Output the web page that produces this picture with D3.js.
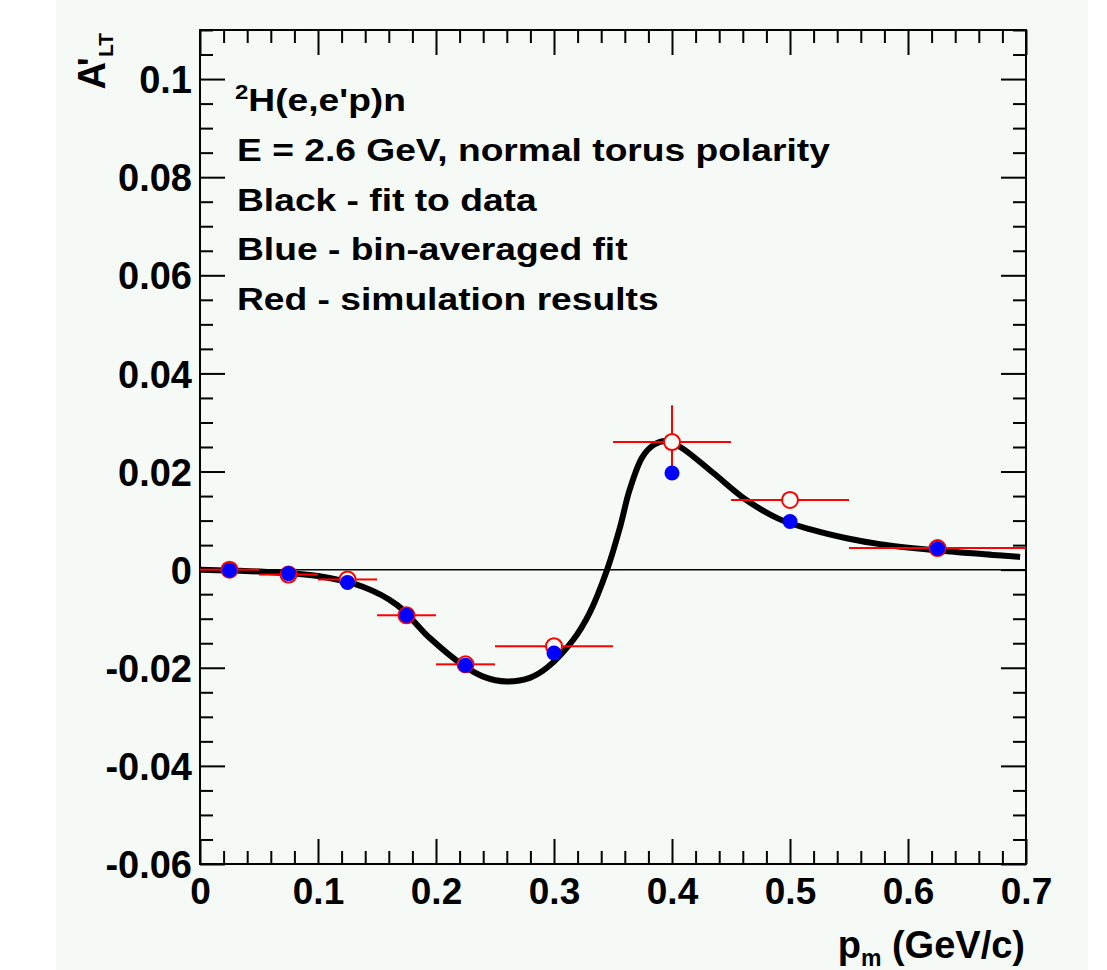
<!DOCTYPE html>
<html>
<head>
<meta charset="utf-8">
<script src="https://cdn.jsdelivr.net/npm/d3@7"></script>
<style>
  body { margin: 0; background: #ffffff; }
  svg text { font-family: "Liberation Sans", Arial, Helvetica, sans-serif; font-weight: bold; fill: #000; }
</style>
</head>
<body>
<svg id="chart" width="1107" height="970"></svg>
<script>
// bins in p_m (GeV/c)
var binCenters = [0.025, 0.075, 0.125, 0.175, 0.225, 0.3, 0.4, 0.5, 0.625];
var binHalfWidths = [0.025, 0.025, 0.025, 0.025, 0.025, 0.05, 0.05, 0.05, 0.075];

// red - simulation results
var simValues = [0.0, -0.001, -0.002, -0.0093, -0.0193, -0.0156, 0.0260, 0.0142, 0.0044];
var simErrors = [0.0006, 0.0006, 0.0008, 0.0008, 0.0008, 0.001, 0.0075, 0.0008, 0.0008];

// blue - bin-averaged fit
var binAvgFit = [-0.0001, -0.0008, -0.0026, -0.0093, -0.0195, -0.0170, 0.0197, 0.0098, 0.0043];

// black - fit to data
var fitX = [0, 0.05, 0.1, 0.138, 0.167, 0.195, 0.223, 0.24, 0.26, 0.28, 0.295, 0.316, 0.33,
            0.345, 0.356, 0.364, 0.375, 0.385, 0.395, 0.407, 0.435, 0.463, 0.491, 0.519,
            0.548, 0.576, 0.621, 0.672, 0.695];
var fitY = [0, -0.0004, -0.0013, -0.0035, -0.0072, -0.0140, -0.0195, -0.0218, -0.0228, -0.0220,
            -0.0198, -0.0144, -0.0089, 0.0, 0.0087, 0.0162, 0.0230, 0.0255, 0.0262, 0.0250,
            0.0197, 0.0142, 0.0103, 0.0081, 0.0064, 0.0052, 0.0040, 0.0030, 0.0026];

var xTicks = [0, 0.1, 0.2, 0.3, 0.4, 0.5, 0.6, 0.7];
var yTicks = [-0.06, -0.04, -0.02, 0, 0.02, 0.04, 0.06, 0.08, 0.1];

var legendLines = [
  "E = 2.6 GeV, normal torus polarity",
  "Black - fit to data",
  "Blue - bin-averaged fit",
  "Red - simulation results"
];

var svg = d3.select("#chart");
var bg = "#f5faf7";

var padL = 200, padR = 1026, padT = 30, padB = 864;

var x = d3.scaleLinear().domain([0, 0.7]).range([padL, padR]);
var y = d3.scaleLinear().domain([-0.06, 0.11]).range([padB, padT]);

var fmt = function(d) { return d === 0 ? "0" : String(+d.toFixed(2)); };

svg.append("rect")
  .attr("x", 56).attr("y", 0)
  .attr("width", 1032).attr("height", 970)
  .attr("fill", bg);

// minor tick positions
var xMinor = d3.range(0, 36).map(function(i) { return +(i * 0.02).toFixed(3); })
  .filter(function(v) { return v <= 0.7 && Math.abs(v * 10 - Math.round(v * 10)) > 1e-6; });
var yMinor = d3.range(0, 35).map(function(i) { return +(-0.06 + i * 0.005).toFixed(4); })
  .filter(function(v) { return v <= 0.11 && Math.abs(v * 50 - Math.round(v * 50)) > 1e-6; });

function styleAxis(g) {
  g.select(".domain").remove();
  g.selectAll(".tick line").attr("stroke", "#000").attr("stroke-width", 2);
}

// bottom axis
svg.append("g").attr("transform", "translate(0," + padB + ")")
  .call(d3.axisBottom(x).tickValues(xTicks).tickSize(-25).tickPadding(14).tickFormat(fmt))
  .call(styleAxis)
  .selectAll("text").style("font-size", "37px").attr("dy", "0.71em");
svg.append("g").attr("transform", "translate(0," + padB + ")")
  .call(d3.axisBottom(x).tickValues(xMinor).tickSize(-13).tickFormat(""))
  .call(styleAxis);
// top axis
svg.append("g").attr("transform", "translate(0," + padT + ")")
  .call(d3.axisTop(x).tickValues(xTicks).tickSize(-25).tickFormat(""))
  .call(styleAxis);
svg.append("g").attr("transform", "translate(0," + padT + ")")
  .call(d3.axisTop(x).tickValues(xMinor).tickSize(-13).tickFormat(""))
  .call(styleAxis);

// left axis
svg.append("g").attr("transform", "translate(" + padL + ",0)")
  .call(d3.axisLeft(y).tickValues(yTicks).tickSize(-25).tickPadding(8).tickFormat(fmt))
  .call(styleAxis)
  .selectAll("text").style("font-size", "38px").attr("dy", "0.36em");
svg.append("g").attr("transform", "translate(" + padL + ",0)")
  .call(d3.axisLeft(y).tickValues(yMinor).tickSize(-13).tickFormat(""))
  .call(styleAxis);
// right axis
svg.append("g").attr("transform", "translate(" + padR + ",0)")
  .call(d3.axisRight(y).tickValues(yTicks).tickSize(-25).tickFormat(""))
  .call(styleAxis);
svg.append("g").attr("transform", "translate(" + padR + ",0)")
  .call(d3.axisRight(y).tickValues(yMinor).tickSize(-13).tickFormat(""))
  .call(styleAxis);

// frame
svg.append("rect")
  .attr("x", padL).attr("y", padT)
  .attr("width", padR - padL).attr("height", padB - padT)
  .attr("fill", "none").attr("stroke", "#000").attr("stroke-width", 2);

// zero line
svg.append("line")
  .attr("x1", padL).attr("x2", padR)
  .attr("y1", y(0)).attr("y2", y(0))
  .attr("stroke", "#000").attr("stroke-width", 1.5);

// fit curve
var fitPts = fitX.map(function(v, i) { return [v, fitY[i]]; });
var line = d3.line()
  .x(function(d) { return x(d[0]); })
  .y(function(d) { return y(d[1]); })
  .curve(d3.curveCatmullRom.alpha(0.5));
svg.append("path")
  .datum(fitPts)
  .attr("d", line)
  .attr("fill", "none")
  .attr("stroke", "#000")
  .attr("stroke-width", 6)
  .attr("stroke-linejoin", "round");

// simulation points with error bars
var r = 8;
var sim = binCenters.map(function(c, i) {
  return { x: c, hw: binHalfWidths[i], y: simValues[i], e: simErrors[i], b: binAvgFit[i] };
});
var eb = svg.append("g").attr("stroke", "#ff0000").attr("stroke-width", 2);
sim.forEach(function(d) {
  var cx = x(d.x), cy = y(d.y);
  eb.append("line").attr("x1", x(d.x - d.hw)).attr("x2", cx - r).attr("y1", cy).attr("y2", cy);
  eb.append("line").attr("x1", cx + r).attr("x2", x(d.x + d.hw)).attr("y1", cy).attr("y2", cy);
  if (y(d.y - d.e) - cy > r) {
    eb.append("line").attr("x1", cx).attr("x2", cx).attr("y1", y(d.y + d.e)).attr("y2", cy - r);
    eb.append("line").attr("x1", cx).attr("x2", cx).attr("y1", cy + r).attr("y2", y(d.y - d.e));
  }
});
svg.append("g").selectAll("circle.sim")
  .data(sim).enter().append("circle")
  .attr("cx", function(d) { return x(d.x); })
  .attr("cy", function(d) { return y(d.y); })
  .attr("r", r)
  .attr("fill", bg)
  .attr("stroke", "#ff0000")
  .attr("stroke-width", 2);

// bin-averaged fit points
svg.append("g").selectAll("circle.avg")
  .data(sim).enter().append("circle")
  .attr("cx", function(d) { return x(d.x); })
  .attr("cy", function(d) { return y(d.b); })
  .attr("r", 7.5)
  .attr("fill", "#0000ff");

// legend text (the reference font is drawn a bit wide)
var lg = svg.append("g").style("font-size", "31px");
var t0 = lg.append("g").attr("transform", "translate(235,111) scale(1.2,1)")
  .append("text");
t0.append("tspan").style("font-size", "20px").attr("dy", -12).text("2");
t0.append("tspan").attr("dy", 12).text("H(e,e'p)n");
legendLines.forEach(function(s, i) {
  lg.append("g").attr("transform", "translate(237," + (161 + i * 49.5) + ") scale(1.2,1)")
    .append("text").text(s);
});

// axis titles
var xt = svg.append("text")
  .attr("x", 1025).attr("y", 958)
  .attr("text-anchor", "end")
  .style("font-size", "38px");
xt.append("tspan").text("p");
xt.append("tspan").style("font-size", "23px").attr("dy", 8).text("m");
xt.append("tspan").attr("dy", -8).text(" (GeV/c)");

var yt = svg.append("text")
  .attr("transform", "translate(105,33) rotate(-90)")
  .attr("text-anchor", "end")
  .style("font-size", "38px");
yt.append("tspan").text("A");
yt.append("tspan").attr("dx", -4).text("'");
yt.append("tspan").style("font-size", "21px").attr("dy", 8).text("LT");
</script>
</body>
</html>
